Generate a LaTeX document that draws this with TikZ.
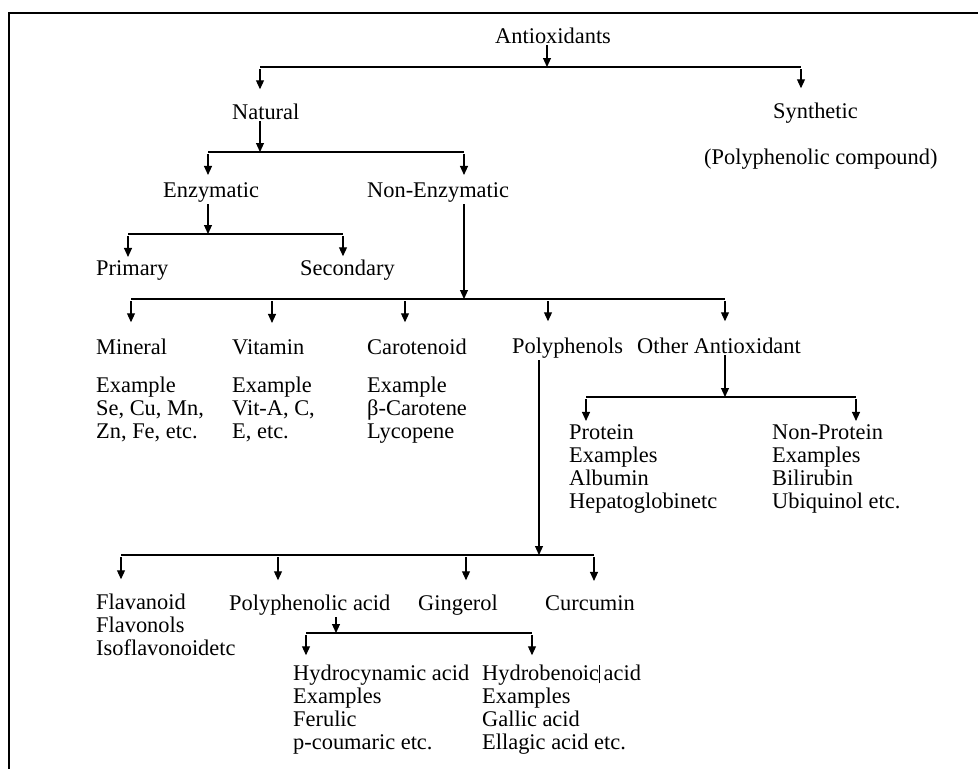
\documentclass[tikz,border=0pt]{standalone}
\usepackage{fontspec}
\setmainfont{Liberation Serif}
\usetikzlibrary{arrows.meta,calc}

\tikzset{
  txt/.style={anchor=base west, inner sep=0pt, align=left, font=\fontsize{22.4}{23}\selectfont},
  ln/.style={line width=1.1pt},
  arr/.style={ln, shorten <=2pt, -{Triangle[length=9pt,width=8pt]}},
}

\begin{document}
\begin{tikzpicture}[x=1pt,y=-1pt]
\useasboundingbox (0,0) rectangle (978,769);
% the frame
\draw[line width=2pt] (9,769) -- (9,13) -- (978,13);
% the labels (multi-line ones sit on their last line)
\node[txt] (anti) at (495,43) {Antioxidants};
\node[txt] (nat) at (232,119) {Natural};
\node[txt] (syn) at (773,118) {Synthetic};
\node[txt] (syncomp) at (704,164) {(Polyphenolic compound)};
\node[txt] (enz) at (163,197) {Enzymatic};
\node[txt] (nonenz) at (367,197) {Non-Enzymatic};
\node[txt] (prim) at (96,275) {Primary};
\node[txt] (sec) at (300,275) {Secondary};
\node[txt] (min) at (96,438) {Mineral\\[15pt]Example\\Se, Cu, Mn,\\Zn, Fe, etc.};
\node[txt] (vit) at (232,438) {Vitamin\\[15pt]Example\\Vit-A, C,\\E, etc.};
\node[txt] (car) at (367,438) {Carotenoid\\[15pt]Example\\β-Carotene\\Lycopene};
\node[txt] (poly) at (512,353) {Polyphenols};
\node[txt] (other) at (637,353) {Other Antioxidant};
\node[txt] (prot) at (569,508) {Protein\\Examples\\Albumin\\Hepatoglobinetc};
\node[txt] (nonprot) at (772,508) {Non-Protein\\Examples\\Bilirubin\\Ubiquinol etc.};
\node[txt] (flav) at (96,655) {Flavanoid\\Flavonols\\Isoflavonoidetc};
\node[txt] (pacid) at (229,610) {Polyphenolic acid};
\node[txt] (ging) at (418,610) {Gingerol};
\node[txt] (curc) at (545,610) {Curcumin};
\node[txt] (hcin) at (293,749) {Hydrocynamic acid\\Examples\\Ferulic\\p-coumaric etc.};
\node[txt] (hben) at (482,749) {Hydrobenoic\rule[-3pt]{0.8pt}{18pt}\,acid\\Examples\\Gallic acid\\Ellagic acid etc.};
% the junctions on the bars
\coordinate (antib-j) at (547,67);
\coordinate (nat-j) at (260,67);
\coordinate (syn-j) at (801,67);
\coordinate (natb-j) at (260,152);
\coordinate (enz-j) at (208,152);
\coordinate (nonenz-j) at (464,152);
\coordinate (enzb-j) at (208,234);
\coordinate (prim-j) at (128,234);
\coordinate (sec-j) at (343,234);
\coordinate (nonenzb-j) at (464,299);
\coordinate (min-j) at (131,299);
\coordinate (vit-j) at (272,299);
\coordinate (car-j) at (405,299);
\coordinate (poly-j) at (548,299);
\coordinate (other-j) at (725,299);
\coordinate (otherb-j) at (725,397);
\coordinate (prot-j) at (586,397);
\coordinate (nonprot-j) at (856,397);
\coordinate (polyb-j) at (539,555);
\coordinate (flav-j) at (121,555);
\coordinate (pacid-j) at (278,555);
\coordinate (ging-j) at (466,555);
\coordinate (curc-j) at (594,555);
\coordinate (pacidb-j) at (336,633);
\coordinate (hcin-j) at (306,633);
\coordinate (hben-j) at (532,633);
% the bars
\draw[ln] (nat-j) -- (syn-j);
\draw[ln] (enz-j) -- (nonenz-j);
\draw[ln] (prim-j) -- (sec-j);
\draw[ln] (min-j) -- (other-j);
\draw[ln] (prot-j) -- (nonprot-j);
\draw[ln] (flav-j) -- (curc-j);
\draw[ln] (hcin-j) -- (hben-j);
% from each parent down to its bar
\foreach \p in {anti, nat, enz, nonenz, other, poly, pacid}
  \draw[arr] (\p b-j |- \p.south) -- (\p b-j);
% from the bars down to the children
\foreach \c in {nat, syn}
  \draw[arr, shorten >=14pt] (\c-j) -- (\c-j |- \c.north);
\foreach \c in {enz, nonenz}
  \draw[arr, shorten >=7pt] (\c-j) -- (\c-j |- \c.north);
\foreach \c in {prim, sec}
  \draw[arr, shorten >=3pt] (\c-j) -- (\c-j |- \c.north);
\foreach \c in {min, vit, car, poly, other}
  \draw[arr, shorten >=16pt] (\c-j) -- (\c-j |- \c.north);
\foreach \c in {prot, nonprot}
  \draw[arr, shorten >=3pt] (\c-j) -- (\c-j |- \c.north);
\foreach \c in {flav, pacid, ging, curc}
  \draw[arr, shorten >=14pt] (\c-j) -- (\c-j |- \c.north);
\foreach \c in {hcin, hben}
  \draw[arr, shorten >=9pt] (\c-j) -- (\c-j |- \c.north);
\end{tikzpicture}
\end{document}
